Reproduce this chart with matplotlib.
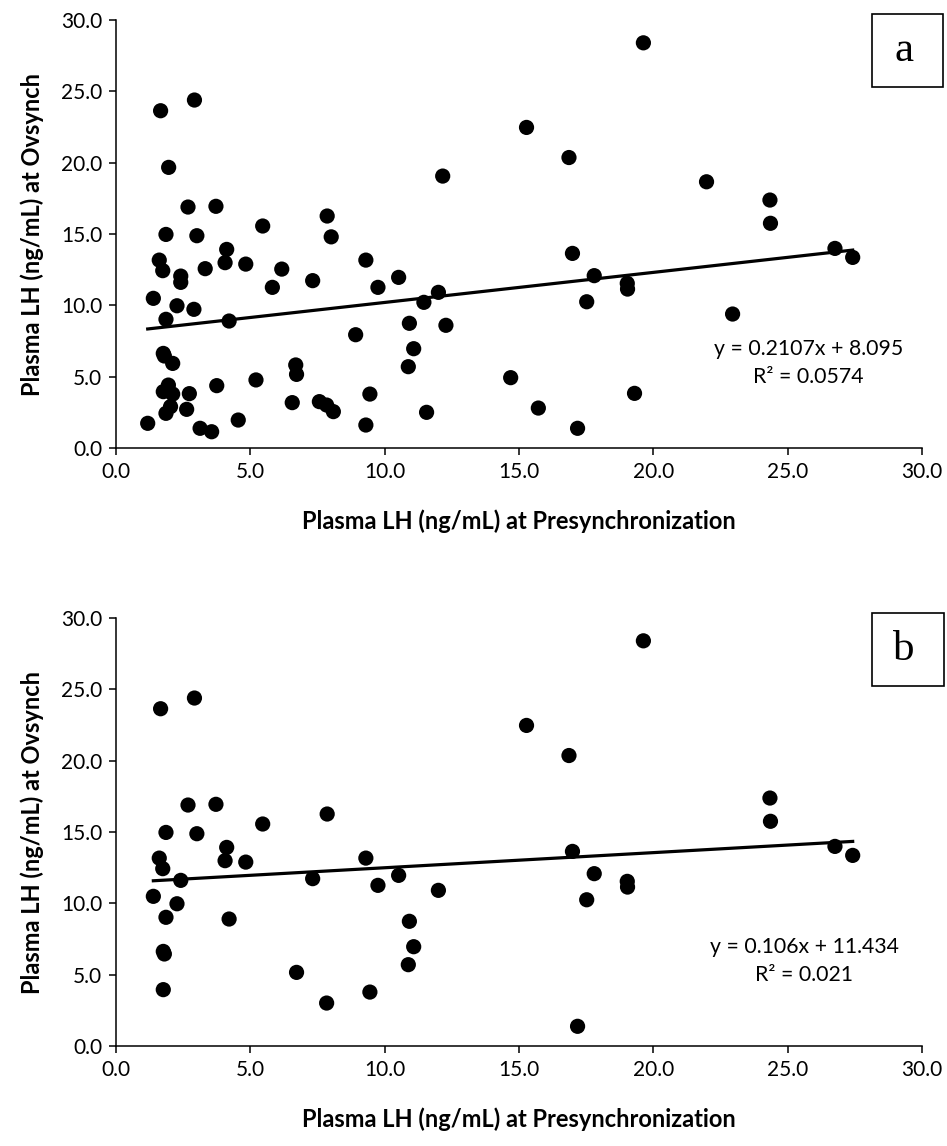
import numpy as np
import matplotlib
matplotlib.use("Agg")
import matplotlib.pyplot as plt
from matplotlib.patches import Rectangle

# panel a: all cows
lh_pre_a = [1.66, 2.92, 1.96, 2.68, 3.72, 5.46, 1.86, 3.01, 4.12, 7.86,
            8.01, 1.61, 1.74, 2.41, 2.41, 3.32, 4.06, 4.83, 6.17, 5.82,
            7.32, 1.39, 2.27, 2.90, 1.86, 4.21, 1.76, 1.80, 2.11, 6.69,
            6.72, 5.21, 1.95, 1.76, 2.11, 2.73, 3.75, 2.03, 1.86, 2.63,
            6.56, 7.57, 1.18, 3.13, 3.56, 4.55, 15.28, 16.86, 12.16, 9.30,
            10.52, 9.75, 12.00, 11.46, 10.92, 12.28, 8.92, 11.08, 10.88, 14.69,
            9.45, 15.72, 11.56, 9.30, 7.84, 8.09, 19.63, 21.98, 24.34, 24.36,
            16.99, 17.80, 19.03, 19.04, 17.52, 26.76, 27.42, 22.95, 19.30, 17.18]
lh_ovs_a = [23.64, 24.39, 19.67, 16.89, 16.94, 15.56, 14.97, 14.88, 13.92, 16.26,
            14.80, 13.17, 12.43, 12.05, 11.61, 12.57, 12.99, 12.89, 12.54, 11.26,
            11.73, 10.49, 9.97, 9.72, 9.02, 8.90, 6.63, 6.45, 5.93, 5.82,
            5.16, 4.77, 4.41, 3.95, 3.78, 3.81, 4.37, 2.90, 2.43, 2.71,
            3.18, 3.25, 1.73, 1.38, 1.14, 1.96, 22.47, 20.36, 19.06, 13.17,
            11.96, 11.26, 10.91, 10.21, 8.74, 8.60, 7.94, 6.96, 5.70, 4.93,
            3.78, 2.80, 2.50, 1.61, 3.01, 2.55, 28.40, 18.66, 17.38, 15.75,
            13.64, 12.08, 11.54, 11.14, 10.25, 13.99, 13.36, 9.39, 3.83, 1.38]

# panel b: subset
lh_pre_b = [1.39, 1.61, 1.74, 1.66, 1.86, 1.86, 1.76, 1.80, 1.76, 2.27,
            2.41, 2.68, 2.92, 3.01, 3.72, 4.06, 4.12, 4.21, 4.83, 5.46,
            6.72, 7.32, 7.86, 7.84, 9.30, 9.45, 9.75, 10.52, 10.92, 10.88,
            11.08, 12.00, 15.28, 16.86, 16.99, 17.52, 17.80, 17.18, 19.03, 19.04,
            19.63, 24.34, 24.36, 26.76, 27.42]
lh_ovs_b = [10.49, 13.17, 12.43, 23.64, 14.97, 9.02, 6.63, 6.45, 3.95, 9.97,
            11.61, 16.89, 24.39, 14.88, 16.94, 12.99, 13.92, 8.90, 12.89, 15.56,
            5.16, 11.73, 16.26, 3.01, 13.17, 3.78, 11.26, 11.96, 8.74, 5.70,
            6.96, 10.91, 22.47, 20.36, 13.64, 10.25, 12.08, 1.38, 11.54, 11.14,
            28.40, 17.38, 15.75, 13.99, 13.36]

# trendline coefficients as printed on the chart
slope_a, icpt_a, r2_a = 0.2107, 8.095, "0.0574"
slope_b, icpt_b, r2_b = 0.106, 11.434, "0.021"

ticks = [0, 5, 10, 15, 20, 25, 30]
xlabel = "Plasma LH (ng/mL) at Presynchronization"
ylabel = "Plasma LH (ng/mL) at Ovsynch"

plt.rcParams['font.family'] = ['Lato', 'DejaVu Sans']

W, H = 947, 1146
fig = plt.figure(figsize=(W / 100, H / 100), dpi=100)

panels = [
    (lh_pre_a, lh_ovs_a, slope_a, icpt_a, "y = 0.2107x + 8.095", r2_a, "a",
     [116 / W, 1 - 448 / H, 806 / W, 428 / H], 0.859, (872, 14, 71, 73)),
    (lh_pre_b, lh_ovs_b, slope_b, icpt_b, "y = 0.106x + 11.434", r2_b, "b",
     [116 / W, 1 - 1046 / H, 806 / W, 428 / H], 0.854, (872, 613, 72, 73)),
]

for xs, ys, m, c, eq, r2, tag, rect, eqx, box in panels:
    ax = fig.add_axes(rect)
    xs = np.array(xs)
    xl = np.array([xs.min(), xs.max()])
    ax.plot(xl, m * xl + c, color='black', lw=2.3, zorder=2)
    ax.scatter(xs, ys, s=120, color='black', edgecolors='none', zorder=3)

    ax.set_xlim(0, 30)
    ax.set_ylim(0, 30)
    ax.set_xticks(ticks)
    ax.set_yticks(ticks)
    ax.set_xticklabels([f"{t:.1f}" for t in ticks])
    ax.set_yticklabels([f"{t:.1f}" for t in ticks])
    for s in ['top', 'right']:
        ax.spines[s].set_visible(False)
    for s in ['left', 'bottom']:
        ax.spines[s].set_linewidth(1.1)
        ax.spines[s].set_color('black')
    ax.tick_params(direction='out', length=5, width=1.1, labelsize=15, pad=5, colors='black')
    ax.set_xlabel(xlabel, fontsize=17, fontweight='bold', labelpad=20)
    ax.set_ylabel(ylabel, fontsize=17, fontweight='bold', labelpad=12)

    ax.text(eqx, 0.231, eq, transform=ax.transAxes, ha='center', va='center', fontsize=15.3)
    ax.text(eqx, 0.166, "R² = " + r2, transform=ax.transAxes, ha='center', va='center', fontsize=15.3)

    bx, by, bw, bh = box
    fig.add_artist(Rectangle((bx / W, 1 - (by + bh) / H), bw / W, bh / H,
                             transform=fig.transFigure, fill=False, lw=1.2, ec='black'))
    fig.text((bx + bw / 2 - 4) / W, 1 - (by + bh / 2) / H, tag, ha='center', va='center',
             fontsize=31, family='Liberation Serif')

fig.savefig("out.png", dpi=100)
